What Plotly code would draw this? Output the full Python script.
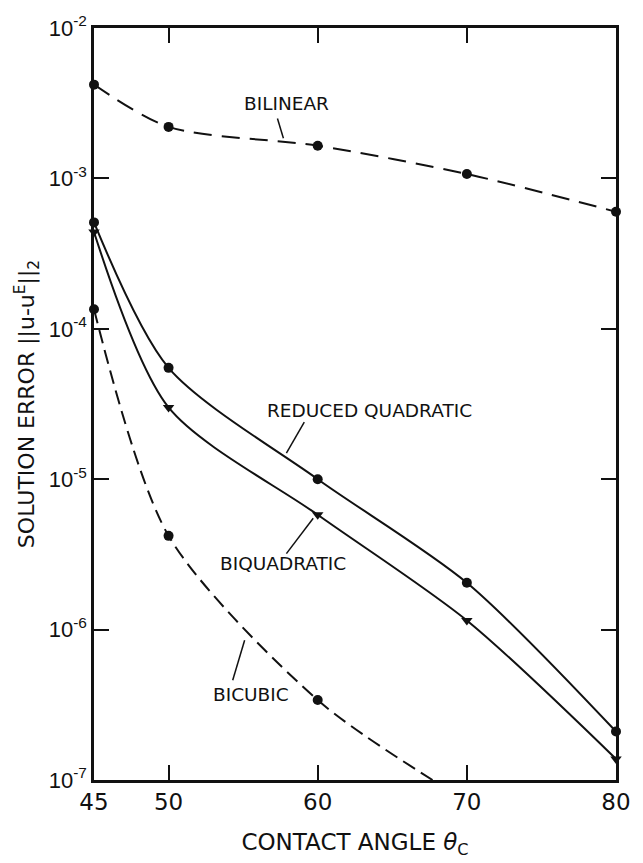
import math
import plotly.graph_objects as go

# ---- data ----
angles = [45, 50, 60, 70, 80]
bilinear = [4.2e-3, 2.2e-3, 1.65e-3, 1.07e-3, 6.0e-4]
reduced_quadratic = [5.1e-4, 5.5e-5, 1.0e-5, 2.05e-6, 2.1e-7]
biquadratic = [4.4e-4, 3.0e-5, 5.8e-6, 1.15e-6, 1.38e-7]
bicubic_angles = [45, 50, 60]
bicubic = [1.35e-4, 4.2e-6, 3.4e-7]
# drawn bicubic curve continues past the last point down to the axis
bicubic_curve_angles = [45, 50, 60, 67.7]
bicubic_curve = [1.35e-4, 4.2e-6, 3.4e-7, 1.0e-7]

x_ticks = [45, 50, 60, 70, 80]
y_ticks = [1e-2, 1e-3, 1e-4, 1e-5, 1e-6, 1e-7]
y_ticktext = ["10<sup>-2</sup>", "10<sup>-3</sup>", "10<sup>-4</sup>",
              "10<sup>-5</sup>", "10<sup>-6</sup>", "10<sup>-7</sup>"]

# labels: text, x, y, leader line (x0, y0, x1, y1)
labels = [
    ("BILINEAR", 57.9, 3.16e-3, (57.3, 2.5e-3, 57.7, 1.85e-3)),
    ("REDUCED QUADRATIC", 63.5, 2.87e-5, (59.1, 2.4e-5, 57.9, 1.49e-5)),
    ("BIQUADRATIC", 57.7, 2.75e-6, (57.9, 3.2e-6, 59.7, 5.5e-6)),
    ("BICUBIC", 55.5, 3.7e-7, (54.3, 4.6e-7, 55.1, 8.5e-7)),
]

FONT = "DejaVu Sans"
TICKFONT = "Liberation Sans"
BLACK = "#111111"

fig = go.Figure()

# curves
fig.add_trace(go.Scatter(x=angles, y=bilinear, mode="lines",
                         line=dict(color=BLACK, width=2, dash="18px,10px", shape="spline", smoothing=0.8),
                         showlegend=False, hoverinfo="skip"))
fig.add_trace(go.Scatter(x=angles, y=reduced_quadratic, mode="lines",
                         line=dict(color=BLACK, width=2, shape="spline", smoothing=0.8),
                         showlegend=False, hoverinfo="skip"))
fig.add_trace(go.Scatter(x=angles, y=biquadratic, mode="lines",
                         line=dict(color=BLACK, width=2, shape="spline", smoothing=0.8),
                         showlegend=False, hoverinfo="skip"))
fig.add_trace(go.Scatter(x=bicubic_curve_angles, y=bicubic_curve, mode="lines",
                         line=dict(color=BLACK, width=2, dash="14px,7px", shape="spline", smoothing=0.8),
                         showlegend=False, hoverinfo="skip"))

# markers
fig.add_trace(go.Scatter(x=angles, y=bilinear, mode="markers",
                         marker=dict(symbol="circle", size=10, color=BLACK),
                         showlegend=False, cliponaxis=False))
fig.add_trace(go.Scatter(x=angles, y=reduced_quadratic, mode="markers",
                         marker=dict(symbol="circle", size=10, color=BLACK),
                         showlegend=False, cliponaxis=False))
fig.add_trace(go.Scatter(x=angles, y=biquadratic, mode="markers",
                         marker=dict(symbol="triangle-down", size=10, color=BLACK),
                         showlegend=False, cliponaxis=False))
fig.add_trace(go.Scatter(x=bicubic_angles, y=bicubic, mode="markers",
                         marker=dict(symbol="circle", size=10, color=BLACK),
                         showlegend=False, cliponaxis=False))

# labels with leader lines
for text, lx, ly, (x0, y0, x1, y1) in labels:
    fig.add_trace(go.Scatter(x=[x0, x1], y=[y0, y1], mode="lines",
                             line=dict(color=BLACK, width=1.5),
                             showlegend=False, hoverinfo="skip"))
    fig.add_annotation(x=lx, y=math.log10(ly), text=text, showarrow=False,
                       font=dict(family=FONT, size=18.5, color=BLACK),
                       xanchor="center", yanchor="middle")

fig.update_xaxes(
    range=[45, 80], tickvals=x_ticks, ticktext=[str(v) for v in x_ticks],
    ticks="inside", ticklen=15, tickwidth=2, tickcolor=BLACK,
    showline=True, linewidth=2.5, linecolor=BLACK, mirror="ticks",
    showgrid=False, zeroline=False,
    tickfont=dict(family=FONT, size=23, color=BLACK),
    title=dict(text="CONTACT ANGLE <i>θ</i><sub>C</sub>",
               font=dict(family=FONT, size=23, color=BLACK), standoff=20),
)
fig.update_yaxes(
    type="log", range=[-7, -2], tickvals=y_ticks, ticktext=y_ticktext,
    ticks="inside", ticklen=15, tickwidth=2, tickcolor=BLACK,
    showline=True, linewidth=2.5, linecolor=BLACK, mirror="ticks",
    showgrid=False, zeroline=False,
    tickfont=dict(family=TICKFONT, size=22, color=BLACK),
    title=dict(text="SOLUTION ERROR ||u-u<sup>E</sup>||<sub>2</sub>",
               font=dict(family=FONT, size=22, color=BLACK), standoff=8),
)

fig.update_layout(
    width=643, height=863,
    margin=dict(l=94, r=14, t=25, b=74),
    paper_bgcolor="white", plot_bgcolor="white",
    showlegend=False,
)

fig.write_html("out.html")
